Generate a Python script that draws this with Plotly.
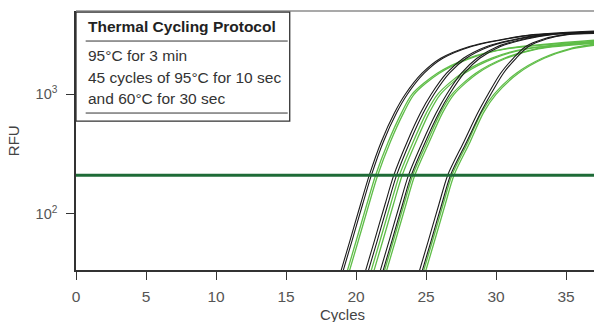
import plotly.graph_objects as go

# ---------------- data ----------------
CYCLE_END = 37
THRESHOLD_RFU = 211

X_TICKS = [0, 5, 10, 15, 20, 25, 30, 35]
Y_TICKS = [100, 1000]
Y_TICK_TEXT = ["10<sup>2</sup>", "10<sup>3</sup>"]

# RFU levels at which the cycle position of each curve was read
BLACK_RFU_LEVELS = [30, 60, 120, 211, 400, 700, 1000, 1500, 2000, 2500, 2900, 3150]
GREEN_RFU_LEVELS = [30, 60, 120, 211, 400, 700, 1000, 1500, 2000, 2400]

BLACK_CYCLES = [
    [18.81, 19.57, 20.32, 20.95, 21.80, 22.75, 23.52, 24.72, 26.05, 28.05, 30.60, 32.65],
    [18.96, 19.72, 20.47, 21.10, 21.95, 22.90, 23.67, 24.87, 26.20, 28.20, 30.75, 32.80],
    [20.56, 21.32, 22.07, 22.70, 23.65, 24.61, 25.37, 26.47, 27.67, 29.30, 31.45, 33.33],
    [20.76, 21.52, 22.27, 22.90, 23.85, 24.81, 25.57, 26.67, 27.87, 29.50, 31.65, 33.53],
    [21.61, 22.37, 23.12, 23.75, 24.75, 25.73, 26.48, 27.53, 28.64, 30.08, 32.00, 33.78],
    [21.81, 22.57, 23.32, 23.95, 24.95, 25.93, 26.68, 27.73, 28.84, 30.28, 32.20, 33.98],
    [24.41, 25.17, 25.92, 26.55, 27.70, 28.70, 29.43, 30.33, 31.23, 32.10, 33.40, 34.90],
    [24.61, 25.37, 26.12, 26.75, 27.90, 28.90, 29.63, 30.53, 31.43, 32.30, 33.60, 35.10],
]
BLACK_END_RFU = [3380, 3320, 3350, 3300, 3330, 3280, 3260, 3220]

GREEN_CYCLES = [
    [19.26, 20.02, 20.77, 21.40, 22.30, 23.25, 24.00, 25.80, 28.00, 30.60],
    [19.41, 20.17, 20.92, 21.55, 22.45, 23.40, 24.15, 25.95, 28.15, 30.75],
    [20.96, 21.72, 22.47, 23.10, 24.08, 25.03, 25.83, 27.56, 29.65, 32.04],
    [21.16, 21.92, 22.67, 23.30, 24.28, 25.23, 26.03, 27.76, 29.85, 32.24],
    [21.91, 22.67, 23.42, 24.05, 25.08, 26.03, 26.85, 28.55, 30.58, 32.85],
    [22.06, 22.82, 23.57, 24.20, 25.23, 26.18, 27.00, 28.70, 30.73, 33.00],
    [24.71, 25.47, 26.22, 26.85, 28.00, 28.95, 29.85, 31.45, 33.30, 35.25],
    [24.86, 25.62, 26.37, 27.00, 28.15, 29.10, 30.00, 31.60, 33.45, 35.40],
]
GREEN_END_RFU = [2830, 2770, 2760, 2700, 2720, 2670, 2620, 2570]

BOX_TITLE = "Thermal Cycling Protocol"
BOX_LINES = ["95°C for 3 min", "45 cycles of 95°C for 10 sec", "and 60°C for 30 sec"]

# ---------------- figure ----------------
FONT = "Liberation Sans, Arial, Helvetica, sans-serif"
BLACK = "#1b1b1b"
GREEN = "#5fbd48"

fig = go.Figure()

for cyc, end in zip(GREEN_CYCLES, GREEN_END_RFU):
    fig.add_trace(go.Scatter(
        x=cyc + [CYCLE_END], y=GREEN_RFU_LEVELS + [end], mode="lines",
        line=dict(color=GREEN, width=1.3, shape="spline", smoothing=0.8),
        hoverinfo="skip", showlegend=False))

for cyc, end in zip(BLACK_CYCLES, BLACK_END_RFU):
    fig.add_trace(go.Scatter(
        x=cyc + [CYCLE_END], y=BLACK_RFU_LEVELS + [end], mode="lines",
        line=dict(color=BLACK, width=1.1, shape="spline", smoothing=0.8),
        hoverinfo="skip", showlegend=False))

fig.add_trace(go.Scatter(
    x=[0, CYCLE_END], y=[THRESHOLD_RFU, THRESHOLD_RFU], mode="lines",
    line=dict(color="#1e6b37", width=3), hoverinfo="skip", showlegend=False))

axis_common = dict(
    showline=True, linecolor="#333333", linewidth=1.5,
    ticks="outside", ticklen=8, tickwidth=1.3, tickcolor="#333333",
    showgrid=False, zeroline=False,
)

fig.update_xaxes(range=[0, CYCLE_END], tickvals=X_TICKS,
                 tickfont=dict(size=15.5, color="#555555", family=FONT),
                 ticklabelstandoff=4, **axis_common)
fig.update_yaxes(type="log", range=[1.532, 3.696], tickvals=Y_TICKS, ticktext=Y_TICK_TEXT,
                 tickfont=dict(size=14.5, color="#555555", family=FONT),
                 ticklabelstandoff=6, **axis_common)

# plot-area top border and protocol box
shapes = [
    dict(type="line", xref="paper", yref="paper", x0=0, x1=1, y0=1, y1=1,
         line=dict(color="#8c8c8c", width=1.5)),
    dict(type="rect", xref="paper", yref="paper", x0=0, x1=0.4126, y0=0.575, y1=0.996,
         line=dict(color="#333333", width=1.3), fillcolor="white"),
    dict(type="line", xref="paper", yref="paper", x0=0.0187, x1=0.4087, y0=0.884, y1=0.884,
         line=dict(color="#333333", width=1)),
    dict(type="line", xref="paper", yref="paper", x0=0.0187, x1=0.4087, y0=0.606, y1=0.606,
         line=dict(color="#333333", width=1)),
]

annotations = [
    dict(text="<b>" + BOX_TITLE + "</b>", xref="paper", yref="paper", x=0.0187, y=0.942,
         xanchor="left", yanchor="middle", showarrow=False,
         font=dict(size=15.5, color="#222222", family=FONT)),
]
for txt, yy in zip(BOX_LINES, [0.830, 0.745, 0.664]):
    annotations.append(dict(text=txt, xref="paper", yref="paper", x=0.0187, y=yy,
                            xanchor="left", yanchor="middle", showarrow=False,
                            font=dict(size=15.5, color="#333333", family=FONT)))
annotations.append(dict(text="Cycles", xref="paper", yref="paper", x=0.515, y=-0.170,
                        xanchor="center", yanchor="middle", showarrow=False,
                        font=dict(size=15, color="#444444", family=FONT)))
annotations.append(dict(text="RFU", xref="paper", yref="paper", x=-0.1203, y=0.5,
                        xanchor="center", yanchor="middle", textangle=-90, showarrow=False,
                        font=dict(size=15, color="#444444", family=FONT)))

fig.update_layout(
    width=594, height=322,
    margin=dict(l=76, r=0, t=11, b=52),
    paper_bgcolor="white", plot_bgcolor="white",
    font=dict(family=FONT),
    shapes=shapes, annotations=annotations,
    showlegend=False,
)

fig.write_html("out.html")
